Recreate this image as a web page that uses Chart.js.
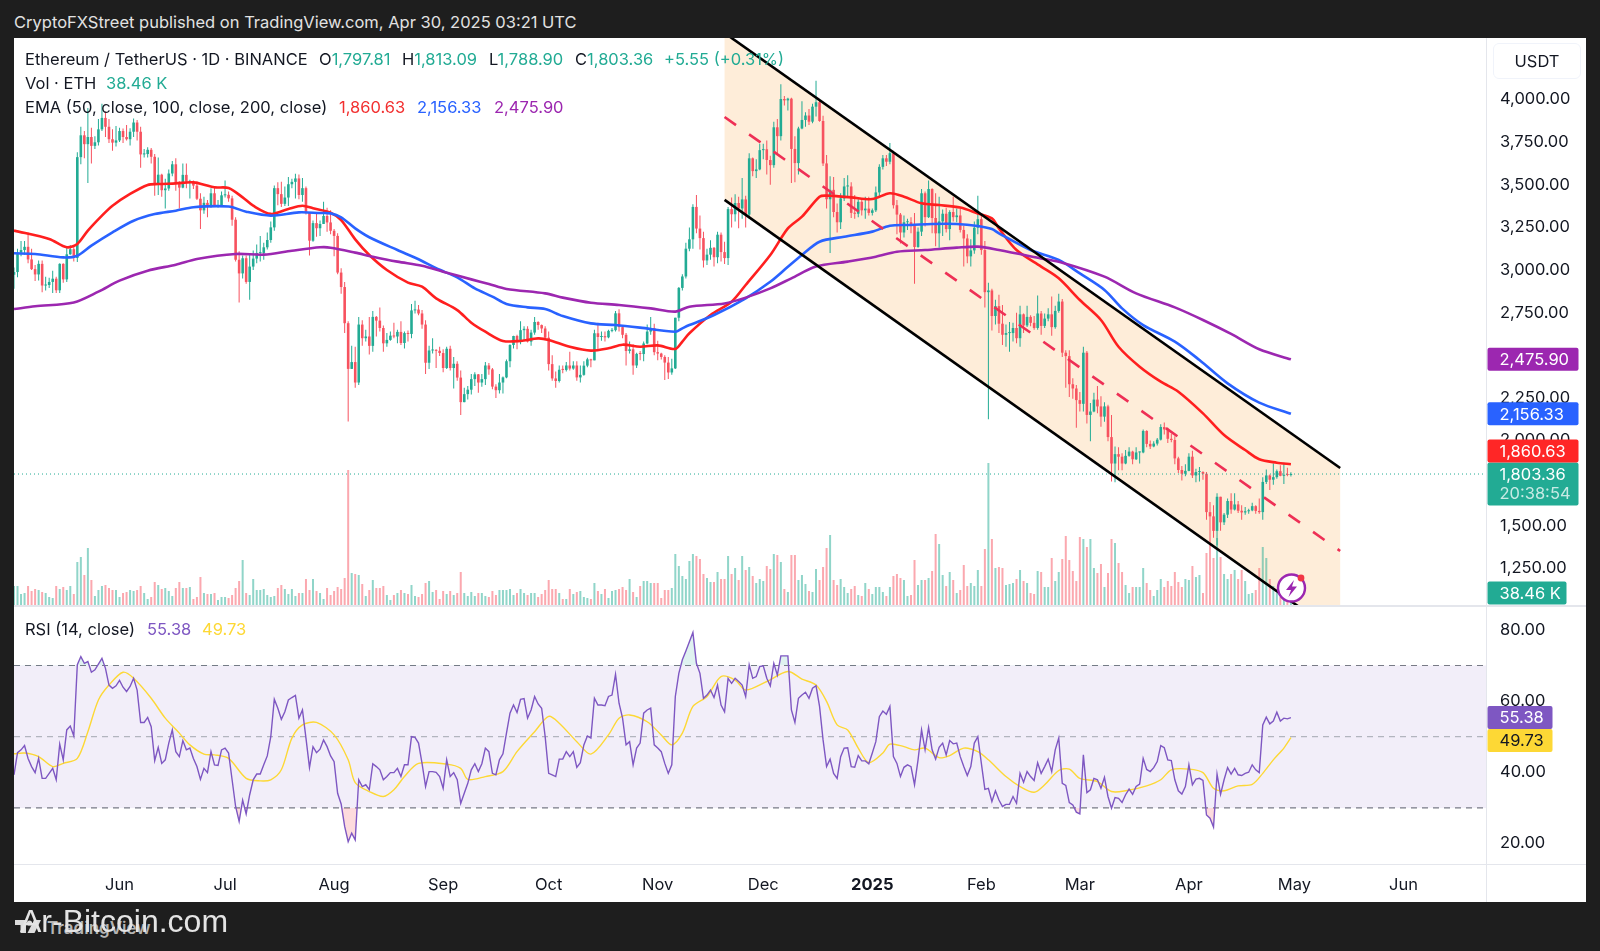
<!DOCTYPE html>
<html>
<head>
<meta charset="utf-8">
<title>Ethereum / TetherUS</title>
<script src="https://cdn.jsdelivr.net/npm/chart.js@4"></script>
<style>
  html, body { margin: 0; padding: 0; background: #1e1e1e; }
  body { width: 1600px; height: 951px; position: relative; overflow: hidden; font-family: Inter, "Noto Sans", sans-serif; }
  #panel { position: absolute; left: 14px; top: 38px; width: 1572px; height: 864px; background: #fff; }
  canvas { position: absolute; left: 14px; }
  #priceChart { top: 38px; }
  #rsiChart { top: 606px; }
  .line { position: absolute; background: #e4e6ec; }
  .t { position: absolute; font-size: 16.5px; line-height: 20px; white-space: nowrap; color: #131722; }
  .up { color: #22ab94; }
  #usdt { position: absolute; left: 1493px; top: 43px; width: 86px; height: 34px; border: 1px solid #f0f3fa; border-radius: 6px; line-height: 34px; text-align: center; font-size: 16.5px; color: #131722; }
  #header { position: absolute; left: 14px; top: 12px; font-size: 16.5px; line-height: 20px; color: #e2e2e2; white-space: nowrap; }
  #mark { position: absolute; left: 20px; top: 901px; font: 32px/40px "Liberation Sans", sans-serif; color: #e4e4e4; white-space: nowrap; }
  #tv { position: absolute; left: 47px; top: 918px; font-size: 17px; line-height: 20px; font-weight: 600; color: #b4b4b4; white-space: nowrap; }
</style>
</head>
<body>
<div id="panel"></div>
<canvas id="priceChart" width="1572" height="567"></canvas>
<canvas id="rsiChart" width="1572" height="296"></canvas>

<div class="line" style="left:14px;top:605px;width:1572px;height:2px"></div>
<div class="line" style="left:14px;top:864px;width:1572px;height:1px"></div>
<div class="line" style="left:1486px;top:38px;width:1px;height:864px"></div>

<div id="header">CryptoFXStreet published on TradingView.com, Apr 30, 2025 03:21 UTC</div>

<div class="t" style="left:25px;top:49px">Ethereum / TetherUS · 1D · BINANCE</div>
<div class="t" style="left:319px;top:49px">O<span class="up">1,797.81</span></div>
<div class="t" style="left:402px;top:49px">H<span class="up">1,813.09</span></div>
<div class="t" style="left:489px;top:49px">L<span class="up">1,788.90</span></div>
<div class="t" style="left:575px;top:49px">C<span class="up">1,803.36</span></div>
<div class="t up" style="left:664px;top:49px">+5.55 (+0.31%)</div>
<div class="t" style="left:25px;top:73px">Vol · ETH</div>
<div class="t up" style="left:106px;top:73px">38.46 K</div>
<div class="t" style="left:25px;top:97px">EMA (50, close, 100, close, 200, close)</div>
<div class="t" style="left:339px;top:97px;color:#f23030">1,860.63</div>
<div class="t" style="left:417px;top:97px;color:#2962ff">2,156.33</div>
<div class="t" style="left:494px;top:97px;color:#9c27b0">2,475.90</div>
<div class="t" style="left:25px;top:619px">RSI (14, close)</div>
<div class="t" style="left:147px;top:619px;color:#7e57c2">55.38</div>
<div class="t" style="left:202px;top:619px;color:#fdd835">49.73</div>
<div id="usdt">USDT</div>

<svg style="position:absolute;left:1276px;top:573px" width="32" height="32" viewBox="0 0 32 32">
  <circle cx="15.5" cy="15" r="13.5" fill="#fff" stroke="#9c27b0" stroke-width="2.4"/>
  <path d="M18 7 L10 17 L15 17 L12.5 24 L21 13.5 L16 13.5 Z" fill="#9c27b0"/>
  <circle cx="25" cy="5" r="3.4" fill="#f23645"/>
</svg>

<svg style="position:absolute;left:15px;top:920px" width="26" height="14" viewBox="0 0 26 14">
  <path d="M0 0 H11 V13 H5.5 V5 H0 Z" fill="#dcdcdc"/>
  <circle cx="14.5" cy="3" r="2.6" fill="#dcdcdc"/>
  <path d="M19 0 H26 L19.5 13 H12.5 Z" fill="#dcdcdc"/>
</svg>
<div id="tv">TradingView</div>
<div id="mark">Ar-Bitcoin.com</div>

<script>
// daily bars, day 0 = 1 Jun 2024
var firstDay = -30;
var monthDays = [0, 30, 61, 92, 122, 153, 183, 214, 245, 273, 304, 334, 365];
var monthLabels = ['Jun', 'Jul', 'Aug', 'Sep', 'Oct', 'Nov', 'Dec', '2025', 'Feb', 'Mar', 'Apr', 'May', 'Jun'];
var priceTicks = [1250, 1500, 1750, 2000, 2250, 2500, 2750, 3000, 3250, 3500, 3750, 4000];
var rsiTicks = [20, 40, 60, 80];

var opens = [
  2972,2988,3102,3117,3136,3062,3005,2974,3036,2909,2912,2930,2949,2881,3036,2945,3092,3122,3071,3662,3790,3738,3780,3728,3749,3825,3892,3840,3767,3747,
  3760,3815,3780,3767,3811,3865,3811,3678,3680,3705,3664,3499,3559,3468,3478,3566,3620,3510,3483,3558,3517,3517,3495,3418,3350,3394,3372,3450,3375,3380,
  3438,3441,3420,3295,3060,2980,3069,2930,3020,3067,3100,3100,3133,3176,3250,3480,3445,3388,3425,3503,3517,3537,3440,3480,3335,3172,3275,3245,3270,3317,3279,
  3230,3200,2985,2900,2688,2420,2460,2340,2680,2600,2610,2555,2725,2703,2660,2570,2590,2615,2610,2637,2572,2630,2625,2763,2768,2745,2680,2456,2528,2528,2526,
  2513,2425,2538,2425,2450,2369,2225,2272,2298,2360,2388,2340,2360,2440,2417,2316,2295,2340,2370,2465,2560,2613,2580,2647,2655,2580,2633,2695,2677,2657,
  2603,2448,2364,2349,2415,2414,2440,2422,2440,2370,2385,2439,2476,2470,2629,2607,2612,2605,2643,2647,2746,2665,2620,2525,2535,2440,2508,2507,2569,2639,2660,
  2518,2510,2490,2457,2399,2423,2720,2895,2962,3125,3180,3370,3243,3187,3056,3090,3130,3075,3207,3105,3070,3357,3327,3393,3361,3414,3325,3655,3580,3590,
  3703,3708,3645,3615,3837,3785,4003,3995,4005,3710,3627,3830,3880,3906,3870,3958,3984,3874,3625,3415,3470,3340,3280,3420,3490,3490,3335,3330,3400,3350,3360,
  3335,3350,3455,3605,3655,3635,3685,3380,3325,3220,3280,3280,3265,3135,3225,3450,3310,3475,3305,3215,3285,3330,3240,3340,3310,3320,3235,3185,3080,3115,3248,
  3298,3117,2870,2880,2730,2788,2685,2620,2630,2630,2660,2600,2740,2675,2725,2690,2660,2745,2672,2715,2740,2665,2760,2815,2515,2495,2330,2305,
  2237,2215,2515,2150,2170,2240,2200,2140,2200,2020,1865,1920,1905,1865,1910,1935,1890,1930,1930,2056,1980,1965,1982,2005,2079,2065,2010,2003,1895,1827,1805,
  1822,1905,1795,1815,1815,1805,1580,1555,1470,1670,1520,1565,1645,1595,1625,1588,1578,1585,1590,1615,1587,1580,1757,1795,1770,1785,1820,1793,1798,1797.81
];
var highs = [
  3015,3125,3170,3170,3220,3125,3030,3055,3055,2960,2955,2995,2960,3040,3040,3130,3145,3145,3690,3840,3815,3950,3835,3785,3885,3975,3930,3885,3825,3845,
  3835,3830,3850,3832,3888,3880,3840,3710,3720,3715,3680,3660,3565,3535,3590,3640,3655,3520,3625,3625,3530,3525,3520,3450,3430,3410,3480,3490,3410,3460,
  3525,3460,3435,3310,3110,3085,3085,3090,3115,3150,3200,3160,3220,3285,3495,3515,3518,3490,3545,3535,3565,3560,3540,3490,3340,3290,3330,3290,3400,3365,3350,
  3240,3215,3010,2930,2700,2555,2550,2725,2705,2650,2725,2760,2730,2780,2675,2630,2640,2690,2650,2700,2640,2645,2800,2820,2795,2765,2705,2555,2600,2535,2550,
  2535,2550,2555,2490,2465,2410,2310,2320,2390,2400,2390,2390,2460,2455,2425,2330,2390,2375,2475,2565,2615,2620,2700,2670,2670,2650,2725,2700,2680,2670,
  2640,2500,2405,2440,2440,2460,2520,2465,2465,2440,2465,2485,2480,2650,2690,2640,2640,2650,2660,2760,2770,2670,2630,2580,2565,2515,2525,2580,2680,2725,2685,
  2585,2515,2500,2490,2480,2720,2900,2975,3160,3250,3385,3440,3320,3225,3125,3175,3135,3225,3220,3165,3370,3425,3445,3430,3540,3435,3685,3660,3650,3740,
  3740,3760,3670,3870,3885,4090,4020,4010,4010,3785,3840,3990,3925,3945,3975,4110,4000,3905,3675,3550,3545,3390,3450,3540,3555,3515,3440,3415,3415,3430,3430,
  3360,3490,3620,3675,3675,3745,3700,3410,3335,3320,3300,3310,3335,3250,3475,3460,3525,3480,3450,3430,3355,3365,3350,3430,3360,3360,3260,3210,3180,3285,3435,
  3325,3170,2925,2890,2825,2855,2795,2680,2695,2690,2750,2790,2745,2790,2735,2730,2850,2760,2745,2775,2845,2790,2860,2830,2530,2530,2365,2325,
  2285,2550,2525,2220,2280,2320,2260,2225,2210,2150,1965,1960,1925,1945,1960,1940,1960,1935,2065,2060,2000,1995,2015,2095,2105,2075,2040,2025,1905,1850,1860,
  1925,1940,1835,1845,1820,1815,1640,1620,1690,1670,1575,1660,1690,1690,1645,1620,1610,1600,1635,1620,1660,1785,1830,1800,1865,1830,1855,1870,1840,1813.09
];
var lows = [
  2890,2958,3080,3090,3040,3000,2935,2938,2870,2880,2895,2865,2865,2865,2925,2930,3090,3050,3047,3620,3655,3510,3625,3710,3730,3815,3780,3745,3700,3725,
  3750,3745,3760,3730,3780,3760,3600,3660,3660,3625,3435,3440,3430,3360,3465,3550,3465,3360,3480,3480,3420,3475,3410,3240,3330,3310,3365,3375,3365,3370,
  3425,3400,3260,3050,2810,2950,2920,2825,3000,3040,3050,3060,3120,3160,3230,3380,3370,3375,3375,3480,3420,3415,3400,3325,3085,3165,3195,3200,3270,3225,3210,
  3080,2975,2860,2630,2111,2420,2310,2325,2555,2580,2505,2520,2610,2640,2520,2550,2585,2600,2570,2560,2540,2580,2600,2745,2735,2655,2390,2420,2510,2425,2495,
  2400,2420,2410,2305,2350,2150,2225,2240,2270,2320,2280,2315,2325,2385,2300,2250,2275,2275,2365,2430,2540,2535,2565,2590,2575,2555,2620,2650,2630,2590,
  2410,2350,2310,2340,2395,2405,2410,2415,2350,2340,2380,2430,2430,2470,2535,2585,2580,2600,2635,2640,2640,2600,2440,2510,2385,2425,2470,2465,2565,2620,2500,
  2470,2475,2355,2360,2385,2420,2700,2880,2950,3110,3125,3215,3120,3015,3030,3060,3020,3040,3050,3035,3030,3250,3285,3245,3300,3250,3300,3550,3540,3585,
  3650,3560,3500,3600,3680,3760,3965,3935,3510,3515,3560,3825,3840,3850,3860,3900,3870,3610,3360,3100,3310,3220,3240,3405,3430,3305,3300,3310,3320,3300,3320,
  3320,3340,3430,3590,3610,3620,3360,3210,3155,3190,3235,3215,2920,3130,3200,3255,3305,3215,3140,3130,3200,3220,3175,3285,3280,3220,3020,3040,3020,3095,3210,
  3090,2780,2125,2645,2680,2630,2560,2550,2520,2580,2570,2550,2630,2665,2670,2650,2650,2620,2660,2700,2615,2655,2750,2490,2310,2255,2245,2075,
  2170,2170,2100,1995,2165,2160,2080,2110,1995,1760,1755,1825,1825,1860,1905,1860,1885,1865,1925,1960,1950,1960,1970,2000,2035,1985,1990,1860,1810,1765,1790,
  1820,1780,1755,1760,1770,1535,1410,1430,1385,1470,1505,1545,1570,1590,1575,1535,1565,1570,1585,1570,1570,1535,1745,1710,1740,1775,1790,1745,1790,1788.90
];
var closes = [
  2988,3102,3117,3136,3062,3005,2974,3036,2909,2912,2930,2949,2881,3036,2945,3092,3122,3071,3662,3790,3738,3780,3728,3749,3825,3892,3840,3767,3747,3760,
  3815,3780,3767,3811,3865,3811,3678,3680,3705,3664,3499,3559,3468,3478,3566,3620,3510,3483,3558,3517,3517,3495,3418,3350,3394,3372,3450,3375,3380,3438,
  3441,3420,3295,3060,2980,3069,2930,3020,3067,3100,3100,3133,3176,3250,3480,3445,3388,3425,3503,3517,3537,3440,3480,3335,3172,3275,3245,3270,3317,3279,3230,
  3200,2985,2900,2688,2420,2460,2340,2680,2600,2610,2555,2725,2703,2660,2570,2590,2615,2610,2637,2572,2630,2625,2763,2768,2745,2680,2456,2528,2528,2526,2513,
  2425,2538,2425,2450,2369,2225,2272,2298,2360,2388,2340,2360,2440,2417,2316,2295,2340,2370,2465,2560,2613,2580,2647,2655,2580,2633,2695,2677,2657,2603,
  2448,2364,2349,2415,2414,2440,2422,2440,2370,2385,2439,2476,2470,2629,2607,2612,2605,2643,2647,2746,2665,2620,2525,2535,2440,2508,2507,2569,2639,2660,2518,
  2510,2490,2457,2399,2423,2720,2895,2962,3125,3180,3370,3243,3187,3056,3090,3130,3075,3207,3105,3070,3357,3327,3393,3361,3414,3325,3655,3580,3590,3703,
  3708,3645,3615,3837,3785,4003,3995,4005,3710,3627,3830,3880,3906,3870,3958,3984,3874,3625,3415,3470,3340,3280,3420,3490,3490,3335,3330,3400,3350,3360,3335,
  3350,3455,3605,3655,3635,3685,3380,3325,3220,3280,3280,3265,3135,3225,3450,3310,3475,3305,3215,3285,3330,3240,3340,3310,3320,3235,3185,3080,3115,3248,3298,
  3117,2870,2880,2730,2788,2685,2620,2630,2630,2660,2600,2740,2675,2725,2690,2660,2745,2672,2715,2740,2665,2760,2815,2515,2495,2330,2305,2237,
  2215,2515,2150,2170,2240,2200,2140,2200,2020,1865,1920,1905,1865,1910,1935,1890,1930,1930,2056,1980,1965,1982,2005,2079,2065,2010,2003,1895,1827,1805,1822,
  1905,1795,1815,1815,1805,1580,1555,1470,1670,1520,1565,1645,1595,1625,1588,1578,1585,1590,1615,1587,1580,1757,1795,1770,1785,1820,1793,1798,1797.81,1803.36
];
// volume read as bar height, 1 unit is about 3.2K ETH
var volumes = [
  19,19,11,12,19,14,16,15,13,12,8,7,19,16,18,15,19,11,43,48,30,57,25,9,15,19,20,17,15,15,
  8,12,13,15,14,15,19,12,6,8,23,20,16,17,14,9,17,23,17,17,18,6,8,28,12,11,11,12,5,8,
  8,7,10,17,24,45,12,10,26,15,15,16,10,8,9,17,20,16,11,16,9,12,12,26,15,26,14,12,6,17,10,
  14,18,16,27,135,32,31,30,21,9,15,25,17,17,19,10,5,10,12,15,12,11,20,9,8,11,22,24,13,15,6,
  14,11,14,10,12,33,12,9,13,9,12,12,9,8,14,10,15,15,15,16,10,12,16,12,10,12,12,8,11,15,
  25,16,16,12,6,6,16,11,13,14,8,7,6,22,14,11,16,7,14,15,16,18,15,26,13,8,19,24,24,22,22,
  22,7,15,15,17,51,39,29,26,44,51,49,46,31,27,23,23,33,26,26,49,31,37,25,49,35,38,29,22,26,
  24,39,36,51,50,43,16,13,50,50,25,30,21,14,13,36,25,38,57,70,25,20,26,18,12,16,19,10,9,22,16,
  11,18,18,13,9,18,29,31,27,25,9,10,45,20,25,25,27,34,71,61,30,19,33,25,12,15,40,19,22,19,35,
  19,56,142,66,37,38,37,20,21,22,26,35,24,22,12,11,34,33,18,18,47,24,33,46,69,45,34,24,
  68,66,58,66,37,32,41,18,32,66,62,42,33,20,12,18,18,18,37,22,15,9,15,26,18,24,19,33,23,18,26,
  25,39,28,30,12,52,64,47,67,48,31,26,31,35,26,35,24,11,12,15,37,58,47,26,19,12,8,5,8,12
];
var rsiValues = [
  39.3,45.5,46.3,47.5,43.9,41.6,39.9,43.9,38.3,38.3,39.7,41.1,37.9,47.9,43.5,51.9,53,50.2,70.2,72.5,70.6,71.1,68.1,68.8,70.4,72,69.2,64.5,63.6,64.3,
  65.8,63.9,62.7,64.1,66.4,63.1,54,54,55.4,52.8,43.3,47,42.5,43.5,48.2,51.9,45.8,44.4,48.9,46.3,46.8,43.9,41.6,38,41.1,39.9,45.8,42.1,41.9,46.3,
  46.8,45.4,37.9,30.4,26.2,32.2,28.3,33.7,37.9,39.5,39.5,42.1,44.6,50,60.5,58,54.9,57,60.3,61,61.6,55.2,57.5,49.6,41.3,47.2,45.5,46.5,49.1,47.2,44.6,
  43,34.1,31.1,24.8,20.5,22.9,21,37.9,36,36.5,35.1,42.4,41.6,40.7,37.9,38.8,39.9,39.9,41.1,38.8,42.1,42.1,50,49.8,48.2,42.5,36,40.2,40.2,40,38.8,
  35.5,43.5,38.8,39.9,37.9,31.3,34.1,36.9,40.7,42.4,40.2,42.4,46.8,45.8,39.7,39.3,43.5,45.2,51,56.6,58.9,56.8,60.5,60.7,55.2,57.5,61.3,59.2,58,50,
  39.7,39.3,38.8,43.7,43.7,45.8,44.4,45.8,41.4,42.7,47.7,50.2,49.6,60.8,58.9,58.9,58.7,61.3,61.7,67.5,59.4,55.2,47.7,48.6,42.1,46.8,48.2,56.6,57.5,58,47.7,
  46.8,45.8,42.5,39.7,42.1,61.3,67.8,71.6,74.1,76.7,79.3,70.6,67.8,60.8,61.7,63.1,61,64.5,58.9,57,66.4,65,66.4,65.5,64.5,61.3,70.2,66.4,66.9,69.7,
  69.9,66.4,64.3,70.6,67.3,72.7,72.7,72.7,57.5,54,60.8,61.7,62.5,60.8,63.6,64.3,58.5,49.1,41.6,43.7,39.7,38.3,44.4,46.8,46.9,41.6,41.4,44.7,43.2,43.2,42.4,
  45.4,48.6,55.6,57.2,56.3,58.5,44.4,42.5,38.8,41.4,42.1,41.6,36.5,43.5,51.9,46.3,52.6,46.3,43.7,47,48.2,44.9,48.9,48,48.2,44.4,41.6,39.1,41.6,48.2,50,
  42.5,35.2,35.5,31.8,34.8,32.2,30.4,31,31,33.2,31.3,39.7,37.2,40.2,38.8,37.7,42.7,39.7,41.6,43.7,40.2,46.3,49.6,36.9,36.3,31.5,30.8,28.8,
  28.3,44.9,34.3,35.1,38.3,37.9,35.5,38.6,33.2,29.9,32.9,32.7,31.5,33.7,35.3,33.8,36,36.7,43.9,40.8,40.2,41.3,43,47.5,46.9,43.5,43.3,37.9,34.8,33.9,36,
  42.1,36.5,38.1,38.3,37.7,28,27.1,24.6,39.5,33.8,37.9,41.3,39.5,41.1,39.3,39.1,39.7,40,42.1,40.7,39.9,53.3,55.5,53.6,54.4,56.9,54.4,55.2,55,55.38
];

// EMAs and the RSI average read at knots along the curve
var ema50Days = [-30,-20,-15,-12,-9,-5,-2,3,8,11,16,21,27,31,35,38,43,48,52,55,60,63,67,71,76,82,86,90,96,100,104,109,114,119,122,128,134,139,143,148,153,158,160,162,168,174,178,185,190,194,199,201,208,214,219,223,228,233,239,244,248,250,255,262,267,273,279,284,290,296,301,308,314,320,324,329,333];
var ema50Values = [3231,3182,3133,3153,3231,3319,3377,3446,3499,3504,3508,3514,3485,3481,3426,3377,3329,3358,3377,3362,3336,3293,3180,3088,3000,2926,2902,2834,2765,2691,2638,2584,2584,2599,2590,2550,2527,2541,2562,2550,2558,2537,2580,2629,2736,2814,2912,3088,3244,3313,3430,3436,3426,3416,3450,3430,3391,3381,3366,3332,3303,3244,3117,3020,2951,2824,2707,2550,2433,2345,2286,2159,2032,1944,1890,1870,1860.63];
var ema100Days = [-30,-24,-16,-12,-8,-2,4,10,16,21,31,36,43,51,57,60,63,67,71,79,85,90,96,101,106,110,116,121,126,134,141,148,158,160,162,169,178,185,190,194,199,206,214,219,225,231,238,244,248,250,259,267,273,280,285,291,300,307,315,324,333];
var ema100Values = [3098,3094,3074,3084,3143,3221,3289,3328,3348,3368,3372,3342,3319,3338,3334,3332,3309,3244,3192,3117,3063,3010,2957,2892,2844,2801,2781,2771,2730,2687,2677,2662,2638,2658,2677,2736,2834,2931,3019,3088,3166,3195,3225,3260,3264,3270,3270,3258,3240,3215,3117,3059,2980,2883,2775,2677,2580,2472,2335,2222,2156.33];
var ema200Days = [-30,-24,-13,-6,0,8,16,22,33,41,49,57,60,67,72,79,86,92,100,105,110,121,126,134,142,151,158,162,172,178,185,191,198,207,215,221,229,238,244,250,262,268,280,289,300,308,316,324,333];
var ema200Values = [2771,2787,2810,2873,2938,2996,3031,3065,3094,3090,3113,3133,3131,3102,3078,3049,3025,2990,2945,2918,2889,2863,2838,2808,2795,2775,2756,2785,2804,2838,2892,2951,3020,3049,3078,3107,3117,3131,3137,3117,3068,3043,2961,2863,2781,2707,2625,2535,2475.90];
var rsiMaDays = [-30,-27,-23,-19,-16,-12,-9,-6,-3,1,4,9,13,17,20,24,27,31,36,40,43,46,49,52,56,61,65,67,71,75,78,81,85,93,97,99,104,109,113,118,122,125,130,134,139,142,145,150,154,157,160,163,167,171,175,178,184,190,194,198,201,204,207,210,213,217,219,223,226,229,233,236,240,244,247,252,256,260,263,267,270,273,278,282,286,292,296,299,304,308,311,314,318,322,325,328,331,333];
var rsiMaValues = [45.2,45.4,44.4,41.6,42.5,43.9,51.4,60.3,64.5,68.1,66.4,60.8,55.2,51,47.7,45.1,44.9,43.9,38.3,37.6,37.9,40.7,49.6,53.3,54,50.5,43.5,37.1,34.6,33.2,35.1,38.8,42.5,42.3,41.1,38,38.8,40.2,45.8,51.4,55.7,53.8,48.6,45.1,50.5,55.2,56.1,54.2,50.5,47.7,51,58.5,61.3,66.9,65.9,63.1,65.5,68.3,66.2,64.5,59.9,53.3,51.9,46.8,42.7,45.4,47.9,47.2,46.3,46.8,44.1,44.7,46.8,45.8,43.5,38.8,36,34.4,36.5,40.5,40.9,38.3,37.4,34.6,34.8,36.2,37.9,40.7,40.9,39.9,35.5,34.8,36.2,36.6,39.7,43.5,46.8,49.73];

// channel drawn on the chart, prices at its first and last day
var channelDays = [172, 347];
var channelTop = [4390, 1839];
var channelMid = [3897, 1352];
var channelBottom = [3411, 853];

var lastClose = 1803.36;
var lastEma50 = 1860.63;
var lastEma100 = 2156.33;
var lastEma200 = 2475.90;
var lastRsi = 55.38;
var lastRsiMa = 49.73;

var fontFamily = 'Inter, "Noto Sans", sans-serif';
var upColor = '#22ab94';
var downColor = '#f7525f';
var axisStart = -30;
var axisEnd = 388.46;

function pairs(xs, ys) {
  return xs.map(function (x, i) { return { x: x, y: ys[i] }; });
}

function dayOf(i) {
  return firstDay + i;
}

function money(v) {
  return v.toLocaleString('en-US', { minimumFractionDigits: 2, maximumFractionDigits: 2 });
}

function lineSet(data, color, width, extra) {
  return Object.assign({
    type: 'line',
    data: data,
    borderColor: color,
    borderWidth: width,
    pointRadius: 0,
    tension: 0,
    fill: false
  }, extra || {});
}

function tagPlugin(tags, direction) {
  return {
    id: 'tags',
    afterDatasetsDraw: function (chart) {
      var ctx = chart.ctx;
      var limit = null;
      var left = chart.chartArea.right + 1.5;
      ctx.save();
      ctx.textBaseline = 'middle';
      ctx.font = '16.5px ' + fontFamily;
      tags.forEach(function (tag) {
        var y = chart.scales[tag.axis].getPixelForValue(tag.value);
        var above = 11.5;
        var below = tag.second ? 31.5 : 11.5;
        if (limit !== null && direction < 0 && y + below > limit) y = limit - below;
        if (limit !== null && direction > 0 && y - above < limit) y = limit + above;
        ctx.fillStyle = tag.color;
        ctx.beginPath();
        ctx.roundRect(left, y - above, tag.width, above + below, 2);
        ctx.fill();
        ctx.fillStyle = tag.textColor;
        ctx.fillText(tag.text, left + 12, y + 1);
        if (tag.second) {
          ctx.fillStyle = 'rgba(255,255,255,0.75)';
          ctx.fillText(tag.second, left + 12, y + 20);
        }
        limit = direction < 0 ? y - above : y + below;
      });
      ctx.restore();
    }
  };
}

function rightAxis(min, max, ticks, label) {
  return {
    position: 'right',
    min: min,
    max: max,
    bounds: 'data',
    grid: { display: false, drawTicks: false },
    border: { display: false },
    afterFit: function (scale) {
      scale.width = 100;
      scale.paddingTop = 0;
      scale.paddingBottom = 0;
    },
    afterBuildTicks: function (scale) {
      scale.ticks = ticks.map(function (v) { return { value: v }; });
    },
    ticks: {
      padding: 14,
      color: '#131722',
      font: { size: 16.5, family: fontFamily },
      callback: label
    }
  };
}

// orange band between the two channel lines, painted before the other datasets
function channelFill() {
  return {
    id: 'channelFill',
    beforeDatasetsDraw: function (chart) {
      var ctx = chart.ctx;
      var x = chart.scales.x;
      var y = chart.scales.y;
      var area = chart.chartArea;
      ctx.save();
      ctx.beginPath();
      ctx.rect(area.left, area.top, area.width, area.height);
      ctx.clip();
      ctx.beginPath();
      ctx.moveTo(x.getPixelForValue(channelDays[0]), y.getPixelForValue(channelTop[0]));
      ctx.lineTo(x.getPixelForValue(channelDays[1]), y.getPixelForValue(channelTop[1]));
      ctx.lineTo(x.getPixelForValue(channelDays[1]), y.getPixelForValue(channelBottom[1]));
      ctx.lineTo(x.getPixelForValue(channelDays[0]), y.getPixelForValue(channelBottom[0]));
      ctx.closePath();
      ctx.fillStyle = '#feedd9';
      ctx.fill();
      ctx.restore();
    }
  };
}

function printPriceChart() {
  var bodies = opens.map(function (o, i) { return { x: dayOf(i), y: [o, closes[i]] }; });
  var wicks = lows.map(function (l, i) { return { x: dayOf(i), y: [l, highs[i]] }; });
  var vols = volumes.map(function (v, i) { return { x: dayOf(i), y: v }; });
  var colors = closes.map(function (c, i) { return c >= opens[i] ? upColor : downColor; });
  var volColors = closes.map(function (c, i) {
    return c >= opens[i] ? 'rgba(34,171,148,0.5)' : 'rgba(247,82,95,0.5)';
  });
  var tags = [
    { axis: 'yVol', value: volumes[volumes.length - 1], text: '38.46 K', color: upColor, textColor: '#fff', width: 79 },
    { axis: 'y', value: lastClose, text: money(lastClose), second: '20:38:54', color: upColor, textColor: '#fff', width: 91 },
    { axis: 'y', value: lastEma50, text: money(lastEma50), color: '#ff2626', textColor: '#fff', width: 91 },
    { axis: 'y', value: lastEma100, text: money(lastEma100), color: '#2962ff', textColor: '#fff', width: 91 },
    { axis: 'y', value: lastEma200, text: money(lastEma200), color: '#9c27b0', textColor: '#fff', width: 91 }
  ];

  new Chart(document.getElementById('priceChart'), {
    type: 'bar',
    data: {
      datasets: [
        lineSet(pairs(channelDays, channelTop), '#000', 2.6, { order: 1 }),
        lineSet(pairs(channelDays, channelBottom), '#000', 2.6, { order: 1 }),
        lineSet(pairs(channelDays, channelMid), '#ee2f55', 2.6, { order: 2, borderDash: [14, 16] }),
        lineSet(pairs([axisStart, axisEnd], [lastClose, lastClose]), '#22ab94', 1, { order: 3, borderDash: [1, 3] }),
        { label: 'volume', data: vols, yAxisID: 'yVol', backgroundColor: volColors, barThickness: 2, grouped: false, inflateAmount: 0, order: 10 },
        { label: 'wicks', data: wicks, backgroundColor: colors, barThickness: 1, grouped: false, inflateAmount: 0, order: 6 },
        { label: 'bodies', data: bodies, backgroundColor: colors, barThickness: 2.6, minBarLength: 1, grouped: false, inflateAmount: 0, order: 5 },
        lineSet(pairs(ema200Days, ema200Values), '#9c27b0', 2.6, { order: 4, tension: 0.3 }),
        lineSet(pairs(ema100Days, ema100Values), '#2962ff', 2.6, { order: 4, tension: 0.3 }),
        lineSet(pairs(ema50Days, ema50Values), '#ff1f1f', 2.6, { order: 4, tension: 0.3 })
      ]
    },
    options: {
      responsive: false,
      animation: false,
      events: [],
      layout: { padding: 0 },
      plugins: { legend: { display: false }, tooltip: { enabled: false } },
      scales: {
        x: { type: 'linear', min: axisStart, max: axisEnd, offset: false, display: false, bounds: 'data', grid: { display: false } },
        y: rightAxis(1035.2, 4360.7, priceTicks, function (v) { return money(v); }),
        yVol: { display: false, min: 0, max: 567, grid: { display: false } }
      }
    },
    plugins: [channelFill(), tagPlugin(tags, -1)]
  });
}

function printRsiChart() {
  var points = rsiValues.map(function (v, i) { return { x: dayOf(i), y: v }; });
  var span = [axisStart, axisEnd];
  var band = 'rgba(126,87,194,0.1)';
  var tags = [
    { axis: 'y', value: lastRsi, text: money(lastRsi), color: '#7e57c2', textColor: '#fff', width: 65 },
    { axis: 'y', value: lastRsiMa, text: money(lastRsiMa), color: '#fdd835', textColor: '#131722', width: 65 }
  ];

  new Chart(document.getElementById('rsiChart'), {
    type: 'line',
    data: {
      datasets: [
        lineSet(pairs(span, [70, 70]), '#787b86', 1.2, { order: 9, borderDash: [6, 5], fill: { target: { value: 30 }, above: band, below: band } }),
        lineSet(pairs(span, [50, 50]), '#b2b5be', 1.2, { order: 8, borderDash: [6, 5] }),
        lineSet(pairs(span, [30, 30]), '#787b86', 1.2, { order: 8, borderDash: [6, 5] }),
        lineSet(points, 'rgba(0,0,0,0)', 0, { order: 7, fill: { target: { value: 70 }, above: 'rgba(38,166,154,0.15)', below: 'rgba(0,0,0,0)' } }),
        lineSet(pairs(rsiMaDays, rsiMaValues), '#fdd835', 1.4, { order: 3, tension: 0.3 }),
        lineSet(points, '#7e57c2', 1.4, { order: 2, fill: { target: { value: 30 }, above: 'rgba(0,0,0,0)', below: 'rgba(242,54,69,0.18)' } })
      ]
    },
    options: {
      responsive: false,
      animation: false,
      events: [],
      layout: { padding: 0 },
      plugins: { legend: { display: false }, tooltip: { enabled: false } },
      scales: {
        x: {
          type: 'linear',
          min: axisStart,
          max: axisEnd,
          bounds: 'data',
          grid: { display: false, drawTicks: false },
          border: { display: false },
          afterFit: function (scale) {
            scale.height = 38;
            scale.paddingLeft = 0;
            scale.paddingRight = 0;
          },
          afterBuildTicks: function (scale) {
            scale.ticks = monthDays.map(function (d) { return { value: d }; });
          },
          ticks: {
            autoSkip: false,
            maxRotation: 0,
            padding: 11,
            color: '#131722',
            font: function (ctx) {
              return { size: 16.5, family: fontFamily, weight: ctx.index === 7 ? '700' : '400' };
            },
            callback: function (v, i) { return monthLabels[i]; }
          }
        },
        y: rightAxis(14.24, 86.71, rsiTicks, function (v) { return money(v); })
      }
    },
    plugins: [tagPlugin(tags, 1)]
  });
}

printPriceChart();
printRsiChart();
</script>
</body>
</html>
